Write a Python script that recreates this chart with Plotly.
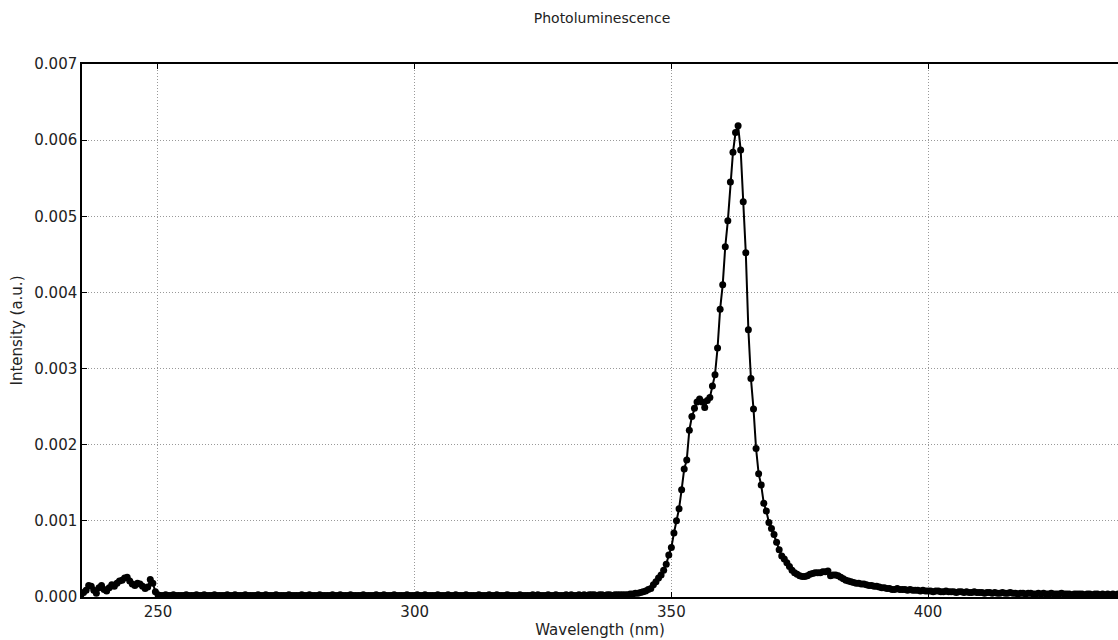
import plotly.graph_objects as go

# Spectrum sampled every 0.5 nm starting at 235 nm (intensity in units of 1e-5 a.u.)
start_nm = 235.0
step_nm = 0.5

seg_uv = [3, 6, 9, 15, 14, 9, 5, 12, 15, 10,
          8, 12, 16, 14, 18, 21, 22, 25, 26, 21,
          17, 15, 18, 17, 14, 11, 13, 23, 18, 7]

seg_baseline = [3, 2, 2, 3, 2, 2, 3, 2, 2, 2,
                2, 3, 2, 2, 2, 3, 2, 2, 3, 2,
                2, 2, 3, 2, 2, 2, 2, 3, 2, 2,
                3, 2, 2, 2, 3, 2, 2, 2, 2, 3,
                2, 2, 3, 2, 2, 2, 3, 2, 2, 2,
                2, 3, 2, 2, 2, 2, 3, 2, 2, 3,
                2, 2, 2, 3, 2, 2, 2, 2, 3, 2,
                2, 3, 2, 2, 2, 3, 2, 2, 2, 2,
                3, 2, 2, 2, 2, 3, 2, 2, 3, 2,
                2, 2, 3, 2, 2, 2, 2, 3, 2, 2,
                2, 3, 2, 2, 3, 2, 2, 2, 2, 3,
                2, 2, 2, 3, 2, 2, 3, 2, 2, 2,
                3, 2, 2, 2, 2, 3, 2, 2, 2, 3,
                2, 2, 3, 2, 2, 2, 3, 2, 2, 2,
                2, 3, 2, 2, 2, 2, 3, 2, 3, 2,
                2, 2, 3, 2, 2, 3, 2, 2, 2, 3,
                2, 3, 2, 2, 3, 2, 3, 2, 3, 3,
                3, 2, 3, 3, 2, 3, 3, 2, 3, 3]

seg_peak = [3, 3, 3, 3, 4, 4, 5, 5, 6, 7,
            8, 10, 11, 16, 20, 25, 29, 35, 43, 55,
            65, 84, 100, 116, 141, 168, 180, 219, 237, 248,
            256, 260, 256, 249, 258, 262, 277, 292, 327, 378,
            410, 460, 494, 545, 584, 610, 619, 587, 519, 452,
            351, 287, 247, 195, 162, 147, 123, 113, 98, 90,
            82, 72, 62, 54, 50, 45, 40, 35, 32, 30,
            28, 27, 27, 28, 30, 31, 32, 32, 32, 33,
            33, 34, 28, 29, 29, 28, 26, 24, 22, 21,
            20, 19, 18, 18, 17, 17, 16, 15, 15, 14,
            14, 13, 12, 12, 11, 11, 10, 10, 11, 10]

seg_tail = [10, 10, 9, 10, 9, 9, 9, 8, 9, 8,
            8, 8, 7, 8, 8, 7, 7, 8, 7, 7,
            7, 6, 7, 7, 6, 7, 6, 6, 7, 6,
            6, 6, 5, 6, 6, 5, 6, 5, 5, 6,
            5, 5, 6, 5, 5, 4, 5, 5, 4, 5,
            5, 4, 4, 5, 4, 5, 4, 4, 5, 4,
            4, 4, 5, 4, 4, 4, 3, 4, 4, 4,
            4, 3, 4, 4, 3, 4, 4, 3, 4, 3,
            4, 3, 4, 3, 4]

intensity_e5 = seg_uv + seg_baseline + seg_peak + seg_tail
wavelength = [start_nm + step_nm * i for i in range(len(intensity_e5))]
intensity = [v * 1e-5 for v in intensity_e5]

x_ticks = [250, 300, 350, 400]
y_ticks = [0.000, 0.001, 0.002, 0.003, 0.004, 0.005, 0.006, 0.007]

FONT = "DejaVu Sans"

fig = go.Figure()
fig.add_trace(go.Scatter(
    x=wavelength, y=intensity, mode="lines+markers",
    line=dict(color="black", width=2),
    marker=dict(color="black", size=7),
    showlegend=False, cliponaxis=True,
))

fig.update_layout(
    width=1118, height=640,
    margin=dict(l=82, r=0, t=64, b=43),
    paper_bgcolor="white", plot_bgcolor="white",
    font=dict(family=FONT, size=15, color="#222"),
    title=dict(text="Photoluminescence", x=602 / 1118, xanchor="center",
               y=1 - 18 / 640, yanchor="middle", yref="container",
               font=dict(family=FONT, size=14, color="#222")),
    xaxis=dict(
        range=[235.2, 437.0], tickvals=x_ticks, ticktext=[str(t) for t in x_ticks],
        showline=True, linecolor="black", linewidth=1.5, mirror="ticks",
        ticks="inside", ticklen=5, tickcolor="black", tickwidth=1,
        showgrid=True, gridcolor="#999999", gridwidth=1, griddash="1px,2px",
        zeroline=False,
        title=dict(text="Wavelength (nm)", standoff=4, font=dict(size=15)),
        tickfont=dict(size=15),
    ),
    yaxis=dict(
        range=[0, 0.007], tickvals=y_ticks, tickformat=".3f",
        showline=True, linecolor="black", linewidth=1.5, mirror=False,
        ticks="inside", ticklen=5, tickcolor="black", tickwidth=1,
        showgrid=True, gridcolor="#999999", gridwidth=1, griddash="1px,2px",
        zeroline=False,
        title=dict(text="Intensity (a.u.)", standoff=8, font=dict(size=15)),
        tickfont=dict(size=15),
    ),
)

fig.write_html("out.html")
